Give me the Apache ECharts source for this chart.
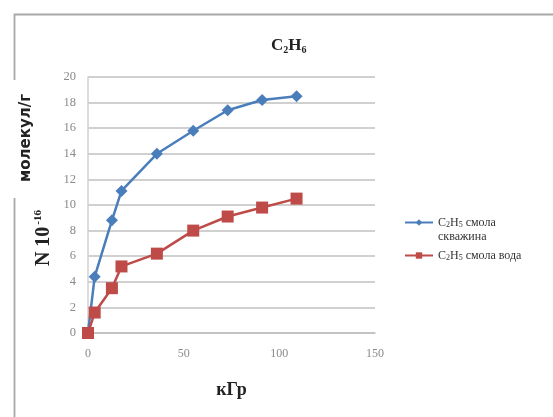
<!DOCTYPE html>
<html><head><meta charset="utf-8">
<script src="https://cdn.jsdelivr.net/npm/echarts@6/dist/echarts.min.js"></script>
<style>html,body{margin:0;padding:0;background:#fff}#c{width:553px;height:417px}</style>
</head><body><div id="c"></div>
<script>
const doseX = [0, 3.5, 12.5, 17.5, 36, 55, 73, 91, 109];
const wellValues = [0, 4.4, 8.8, 11.1, 14.0, 15.8, 17.4, 18.2, 18.5];
const waterValues = [0, 1.6, 3.5, 5.2, 6.2, 8.0, 9.1, 9.8, 10.5];
const seriesNames = ['C2H5 смола скважина', 'C2H5 смола вода'];
const xTicks = [0, 50, 100, 150];
const yTicks = [0, 2, 4, 6, 8, 10, 12, 14, 16, 18, 20];

const serif = 'Liberation Serif';
const chart = echarts.init(document.getElementById('c'));
chart.setOption({
  animation: false,
  backgroundColor: '#fff',
  grid: {left: 88, right: 178, top: 77, bottom: 84},
  title: {
    text: '{a|C}{s|2}{a|H}{s|6}',
    left: 266, top: 31,
    textStyle: {rich: {
      a: {fontFamily: serif, fontWeight: 'bold', fontSize: 17, color: '#222'},
      s: {fontFamily: serif, fontWeight: 'bold', fontSize: 10, color: '#222', verticalAlign: 'bottom', padding: [9, 0, 0, 0]}
    }}
  },
  legend: {
    orient: 'vertical', left: 399, top: 211,
    itemWidth: 28, itemHeight: 8, itemGap: 20,
    data: seriesNames,
    formatter: function (n) {
      if (n === seriesNames[0]) return '{a|C}{s|2}{a|H}{s|5}{a| смола}';
      return '{a|C}{s|2}{a|H}{s|5}{a| смола вода}';
    },
    textStyle: {rich: {
      a: {fontFamily: serif, fontSize: 12, color: '#333', lineHeight: 16},
      s: {fontFamily: serif, fontSize: 8, color: '#333', lineHeight: 16, padding: [5, 0, 0, 0]}
    }}
  },
  xAxis: {
    type: 'value', min: xTicks[0], max: xTicks[xTicks.length - 1], interval: 50,
    axisLine: {show: true, lineStyle: {color: '#bfbfbf', width: 1.5}},
    axisTick: {show: false},
    splitLine: {show: false},
    axisLabel: {margin: 15, fontFamily: serif, fontSize: 12, color: '#8a8a8a'},
    name: 'кГр', nameLocation: 'middle', nameGap: 48,
    nameTextStyle: {fontFamily: serif, fontWeight: 'bold', fontSize: 18, color: '#222'}
  },
  yAxis: {
    type: 'value', min: yTicks[0], max: yTicks[yTicks.length - 1], interval: 2,
    axisLine: {show: true, lineStyle: {color: '#d0d0d0', width: 1.5}},
    axisTick: {show: false},
    splitLine: {lineStyle: {color: '#d0d0d0', width: 1.8}},
    axisLabel: {margin: 12, fontFamily: serif, fontSize: 12.5, color: '#8a8a8a'}
  },
  graphic: [
    {type: 'rect', left: 12, top: 12, shape: {width: 560, height: 420}, style: {fill: 'none', stroke: '#a8a8a8', lineWidth: 1.8}, z: -1},
    {type: 'rect', left: 0, top: 80, shape: {width: 38, height: 118}, style: {fill: '#fff'}, z: 0},
    {type: 'text', left: 19, top: 94, rotation: Math.PI / 2,
      style: {text: 'молекул/г', font: 'bold 15px "DejaVu Sans"', fill: '#222'}, z: 2},
    {type: 'text', left: 33, top: 210,
      style: {
        text: '{n|N 10}{e|-16}',
        rich: {
          n: {fontFamily: serif, fontWeight: 'bold', fontSize: 20, fill: '#222'},
          e: {fontFamily: serif, fontWeight: 'bold', fontSize: 11, fill: '#222', verticalAlign: 'top', padding: [0, 0, 10, 2]}
        }
      }, rotation: Math.PI / 2, z: 2},
    {type: 'text', left: 438, top: 231,
      style: {text: 'скважина', font: '12px "Liberation Serif"', fill: '#333'}, z: 2}
  ],
  series: [
    {name: seriesNames[0], type: 'line', data: doseX.map((x, i) => [x, wellValues[i]]),
      symbol: 'diamond', symbolSize: 12, lineStyle: {color: '#4a7ebb', width: 2.5},
      itemStyle: {color: '#4a7ebb'}, z: 2},
    {name: seriesNames[1], type: 'line', data: doseX.map((x, i) => [x, waterValues[i]]),
      symbol: 'rect', symbolSize: 12, lineStyle: {color: '#be4b48', width: 2.5},
      itemStyle: {color: '#be4b48'}, z: 3}
  ]
});
</script></body></html>
